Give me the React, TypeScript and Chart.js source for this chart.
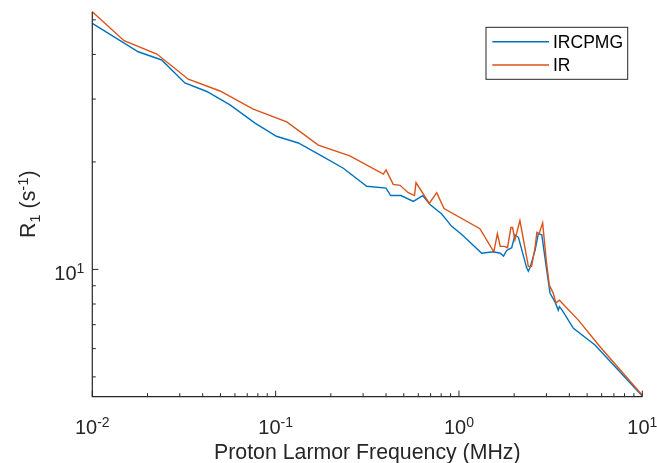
import React, { useEffect, useRef } from 'react';
import { Chart, registerables } from 'chart.js';

Chart.register(...registerables);

// ---- data ----
const seriesLabels = ['IRCPMG', 'IR'];

const ircpmgFreq = [0.01, 0.0178, 0.0239, 0.032, 0.0421, 0.0564, 0.0772, 0.101, 0.133, 0.178, 0.234, 0.314, 0.4, 0.424, 0.483, 0.564, 0.634, 0.695, 0.805, 0.913, 1.04, 1.33, 1.54, 1.68, 1.75, 1.82, 1.94, 2.02, 2.11, 2.34, 2.39, 2.44, 2.6, 2.71, 2.83, 3.01, 3.14, 3.34, 3.48, 3.53, 3.63, 4.21, 5.52, 10];
const ircpmgR1 = [48.9, 40.7, 38.6, 33.3, 31.5, 28.9, 25.7, 23.6, 22.6, 20.8, 19.2, 17.1, 16.9, 16.1, 16.1, 15.5, 16.1, 15.2, 14.3, 13.2, 12.5, 11.1, 11.2, 11.1, 10.9, 11.3, 11.5, 12.5, 12.3, 10.1, 9.89, 10.1, 11.3, 12.6, 12.5, 9.95, 8.57, 8.11, 7.69, 7.86, 7.73, 6.84, 6.14, 4.42];

const irFreq = [0.01, 0.0149, 0.0225, 0.0334, 0.0497, 0.0755, 0.115, 0.171, 0.254, 0.387, 0.4, 0.438, 0.477, 0.529, 0.572, 0.583, 0.689, 0.756, 0.829, 1.3, 1.55, 1.62, 1.68, 1.77, 1.84, 1.92, 1.96, 2.02, 2.15, 2.29, 2.39, 2.49, 2.6, 2.66, 2.74, 2.86, 3.0, 3.11, 3.27, 3.38, 3.53, 4.48, 5.88, 10];
const irR1 = [52.7, 43.7, 40.1, 34.1, 31.6, 28.1, 25.9, 22.3, 20.8, 18.5, 19.0, 17.3, 17.2, 16.4, 16.1, 17.5, 15.3, 16.4, 14.8, 13.0, 11.2, 12.6, 11.6, 11.6, 11.5, 13.1, 13.1, 12.1, 13.7, 11.5, 10.2, 10.2, 11.5, 12.7, 12.6, 13.5, 10.5, 9.04, 8.57, 8.06, 8.2, 7.21, 6.07, 4.44];

const xLimits = [0.01, 10];
const yLimits = [4.4, 52.7];
const xTickValues = [0.01, 0.1, 1, 10];
const xTickExponents = ['-2', '-1', '0', '1'];
const yTickValues = [10];
const yTickExponents = ['1'];
const xTitle = 'Proton Larmor Frequency (MHz)';

const seriesColors = ['#0072BD', '#D95319'];
const AXIS_COLOR = '#262626';
const FONT = "'Liberation Sans', Arial, Helvetica, sans-serif";
const TICK_SIZE = 20;
const SUP_SIZE = 14;
const LABEL_SIZE = 21.3;
const LEGEND_SIZE = 17.5;

function minorValues(min: number, max: number): number[] {
  const out: number[] = [];
  for (let e = Math.floor(Math.log10(min)); e <= Math.ceil(Math.log10(max)); e++) {
    for (let m = 1; m <= 9; m++) {
      const v = m * Math.pow(10, e);
      if (v >= min * 0.9999 && v <= max * 1.0001) out.push(v);
    }
  }
  return out;
}

function isPow10(v: number) {
  const l = Math.log10(v);
  return Math.abs(l - Math.round(l)) < 1e-6;
}

const matlabAxes = {
  id: 'matlabAxes',
  afterDraw(chart: any) {
    const ctx: CanvasRenderingContext2D = chart.ctx;
    const { left, right, top, bottom } = chart.chartArea;
    const xs = chart.scales.x;
    const ys = chart.scales.y;
    ctx.save();
    ctx.strokeStyle = AXIS_COLOR;
    ctx.fillStyle = AXIS_COLOR;
    ctx.lineWidth = 1.2;

    // axis lines (box off)
    ctx.beginPath();
    ctx.moveTo(left, top);
    ctx.lineTo(left, bottom);
    ctx.lineTo(right, bottom);
    ctx.stroke();

    // ticks, pointing inwards
    ctx.lineWidth = 1;
    ctx.beginPath();
    for (const v of minorValues(xLimits[0], xLimits[1])) {
      const px = xs.getPixelForValue(v);
      const len = isPow10(v) ? 6 : 3.5;
      ctx.moveTo(px, bottom);
      ctx.lineTo(px, bottom - len);
    }
    for (const v of minorValues(yLimits[0], yLimits[1])) {
      const py = ys.getPixelForValue(v);
      const len = isPow10(v) ? 6 : 3.5;
      ctx.moveTo(left, py);
      ctx.lineTo(left + len, py);
    }
    ctx.stroke();

    // x tick labels 10^n
    ctx.textBaseline = 'alphabetic';
    ctx.textAlign = 'left';
    xTickValues.forEach((v, i) => {
      const px = xs.getPixelForValue(v);
      ctx.font = `${TICK_SIZE}px ${FONT}`;
      const wBase = ctx.measureText('10').width;
      ctx.font = `${SUP_SIZE}px ${FONT}`;
      const wSup = ctx.measureText(xTickExponents[i]).width;
      const x0 = px - (wBase + wSup) / 2;
      const base = bottom + 37.3;
      ctx.font = `${TICK_SIZE}px ${FONT}`;
      ctx.fillText('10', x0, base);
      ctx.font = `${SUP_SIZE}px ${FONT}`;
      ctx.fillText(xTickExponents[i], x0 + wBase, base - 6.8);
    });

    // y tick labels
    yTickValues.forEach((v, i) => {
      const py = ys.getPixelForValue(v);
      ctx.font = `${SUP_SIZE}px ${FONT}`;
      const wSup = ctx.measureText(yTickExponents[i]).width;
      ctx.font = `${TICK_SIZE}px ${FONT}`;
      const wBase = ctx.measureText('10').width;
      const xEnd = left - 8;
      const base = py + 10.7;
      ctx.fillText('10', xEnd - wSup - wBase, base);
      ctx.font = `${SUP_SIZE}px ${FONT}`;
      ctx.fillText(yTickExponents[i], xEnd - wSup, base - 6.8);
    });

    // x title
    ctx.font = `${LABEL_SIZE}px ${FONT}`;
    ctx.textAlign = 'center';
    ctx.fillText(xTitle, (left + right) / 2, 459.3);

    // y title: R_1 (s^-1), rotated
    const parts: [string, number, number][] = [
      ['R', LABEL_SIZE, 0],
      ['1', 15, 4.5],
      [' (s', LABEL_SIZE, 0],
      ['-1', 15, -7],
      [')', LABEL_SIZE, 0],
    ];
    ctx.textAlign = 'left';
    let total = 0;
    const widths = parts.map(([t, s]) => {
      ctx.font = `${s}px ${FONT}`;
      const w = ctx.measureText(t).width;
      total += w;
      return w;
    });
    ctx.translate(35, (top + bottom) / 2);
    ctx.rotate(-Math.PI / 2);
    let cx = -total / 2;
    parts.forEach(([t, s, dy], i) => {
      ctx.font = `${s}px ${FONT}`;
      ctx.fillText(t, cx, dy);
      cx += widths[i];
    });
    ctx.setTransform(1, 0, 0, 1, 0, 0);

    // legend box
    const bx = 486, by = 27.3, bw = 141.7, bh = 52;
    ctx.fillStyle = '#ffffff';
    ctx.fillRect(bx, by, bw, bh);
    ctx.strokeStyle = AXIS_COLOR;
    ctx.lineWidth = 1;
    ctx.strokeRect(bx, by, bw, bh);
    const rows = [41.7, 65];
    chart.data.datasets.forEach((ds: any, i: number) => {
      ctx.strokeStyle = ds.borderColor;
      ctx.lineWidth = 1.4;
      ctx.beginPath();
      ctx.moveTo(492.3, rows[i]);
      ctx.lineTo(549, rows[i]);
      ctx.stroke();
      ctx.fillStyle = '#000000';
      ctx.font = `${LEGEND_SIZE}px ${FONT}`;
      ctx.textBaseline = 'middle';
      ctx.fillText(ds.label, 553, rows[i] + 1);
    });
    ctx.restore();
  },
};

export default function App() {
  const ref = useRef<HTMLCanvasElement | null>(null);
  useEffect(() => {
    if (!ref.current) return;
    const chart = new Chart(ref.current, {
      type: 'line',
      data: {
        datasets: [
          {
            label: seriesLabels[0],
            data: ircpmgFreq.map((f, i) => ({ x: f, y: ircpmgR1[i] })),
            borderColor: seriesColors[0],
            backgroundColor: seriesColors[0],
            borderWidth: 1.4,
            pointRadius: 0,
            tension: 0,
            order: 1,
            clip: false as any,
          },
          {
            label: seriesLabels[1],
            data: irFreq.map((f, i) => ({ x: f, y: irR1[i] })),
            borderColor: seriesColors[1],
            backgroundColor: seriesColors[1],
            borderWidth: 1.4,
            pointRadius: 0,
            tension: 0,
            order: 0,
            clip: false as any,
          },
        ],
      },
      options: {
        animation: false,
        responsive: false,
        maintainAspectRatio: false,
        layout: { padding: { left: 0, top: 11.7, right: 14.7, bottom: 0 } },
        plugins: { legend: { display: false }, tooltip: { enabled: false } },
        scales: {
          x: {
            type: 'logarithmic',
            min: xLimits[0],
            max: xLimits[1],
            grid: { display: false },
            border: { display: false },
            ticks: { display: false },
            afterFit: (s: any) => { s.height = 66.3; },
          },
          y: {
            type: 'logarithmic',
            min: yLimits[0],
            max: yLimits[1],
            grid: { display: false },
            border: { display: false },
            ticks: { display: false },
            afterFit: (s: any) => { s.width = 92.3; },
          },
        },
      },
      plugins: [matlabAxes],
    });
    return () => chart.destroy();
  }, []);
  return (
    <div style={{ position: 'fixed', left: 0, top: 0, width: 657, height: 463, background: '#fff' }}>
      <canvas ref={ref} width={657} height={463} style={{ display: 'block', width: 657, height: 463 }} />
    </div>
  );
}
